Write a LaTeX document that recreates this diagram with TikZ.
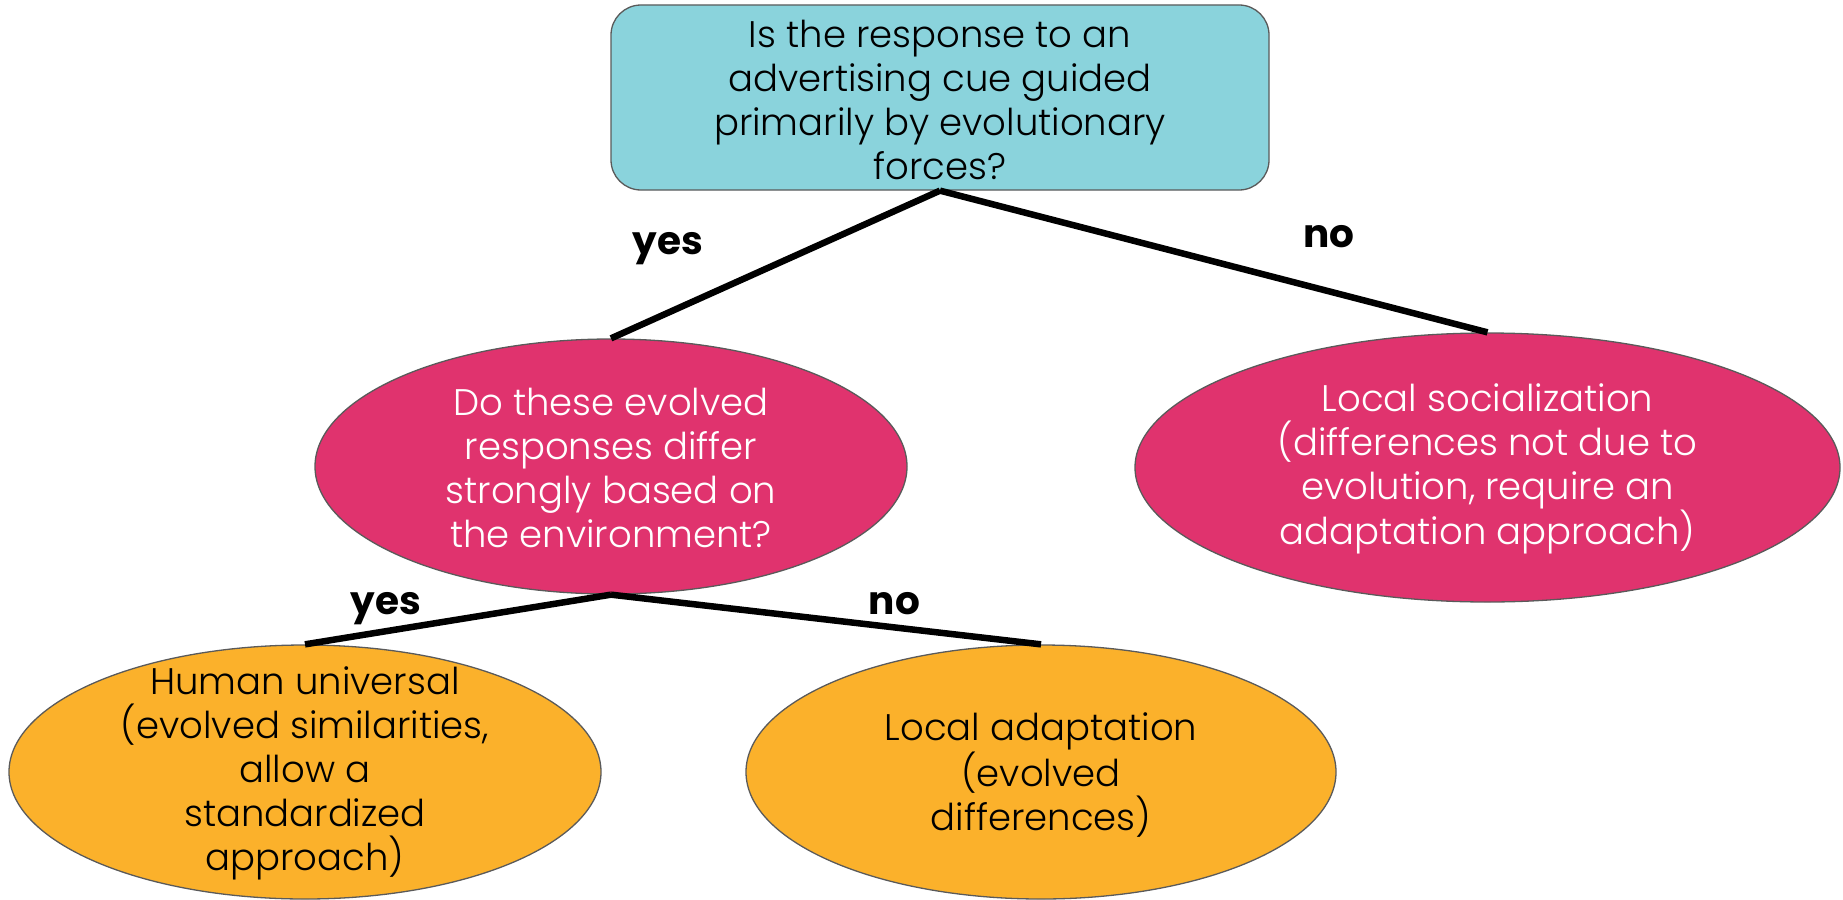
\documentclass[tikz,border=0pt]{standalone}
\usepackage{fontspec}
\setmainfont{Poppins}[UprightFont=* Light,BoldFont=* Bold]
\usetikzlibrary{shapes.geometric}
\definecolor{tealc}{HTML}{8AD3DC}
\definecolor{pinkc}{HTML}{E0336E}
\definecolor{orangec}{HTML}{FBB12B}
\definecolor{edgec}{HTML}{5A5A5A}
\begin{document}
\begin{tikzpicture}[x=1pt,y=-1pt,
  box/.style={draw=edgec,line width=1.3pt,rounded corners=30pt,fill=tealc,minimum width=658pt,minimum height=185pt,inner sep=0pt},
  ell/.style={ellipse,draw=edgec,line width=1.3pt,inner sep=0pt},
  txt/.style={align=center,font=\fontsize{37}{44}\selectfont,inner sep=0pt},
  lbl/.style={font=\fontsize{39}{44}\selectfont\bfseries,inner sep=0pt},
  conn/.style={line width=6.5pt,black}]
\useasboundingbox (0,0) rectangle (1843,899);
\node[box] (top) at (940,97.5) {};
\node[txt,black] (toptxt) at (940,100) {Is the response to an\\advertising cue guided\\primarily by evolutionary\\forces?};
\node[ell,fill=pinkc,minimum width=592pt,minimum height=255pt] (mid) at (611,466.5) {};
\node[txt,white] (midtxt) at (611,468) {Do these evolved\\responses differ\\strongly based on\\the environment?};
\node[ell,fill=pinkc,minimum width=705pt,minimum height=269pt] (right) at (1487.5,467.5) {};
\node[txt,white] (righttxt) at (1487.5,469) {Local socialization\\(differences not due to\\evolution, require an\\adaptation approach)};
\node[ell,fill=orangec,minimum width=592pt,minimum height=254pt] (bl) at (305,772) {};
\node[txt,black] (bltxt) at (305,773) {Human universal\\(evolved similarities,\\allow a\\standardized\\approach)};
\node[ell,fill=orangec,minimum width=590pt,minimum height=254pt] (br) at (1041,772) {};
\node[txt,black] (brtxt) at (1041,775) {Local adaptation\\(evolved\\differences)};
\draw[conn] (top.south) -- (mid.north);
\draw[conn] (top.south) -- (right.north);
\draw[conn] (mid.south) -- (bl.north);
\draw[conn] (mid.south) -- (br.north);
\node[lbl] (l1) at (668,248.5) {yes};
\node[lbl] (l2) at (1329,237) {no};
\node[lbl] (l3) at (386,609) {yes};
\node[lbl] (l4) at (894.5,604) {no};
\end{tikzpicture}
\end{document}
